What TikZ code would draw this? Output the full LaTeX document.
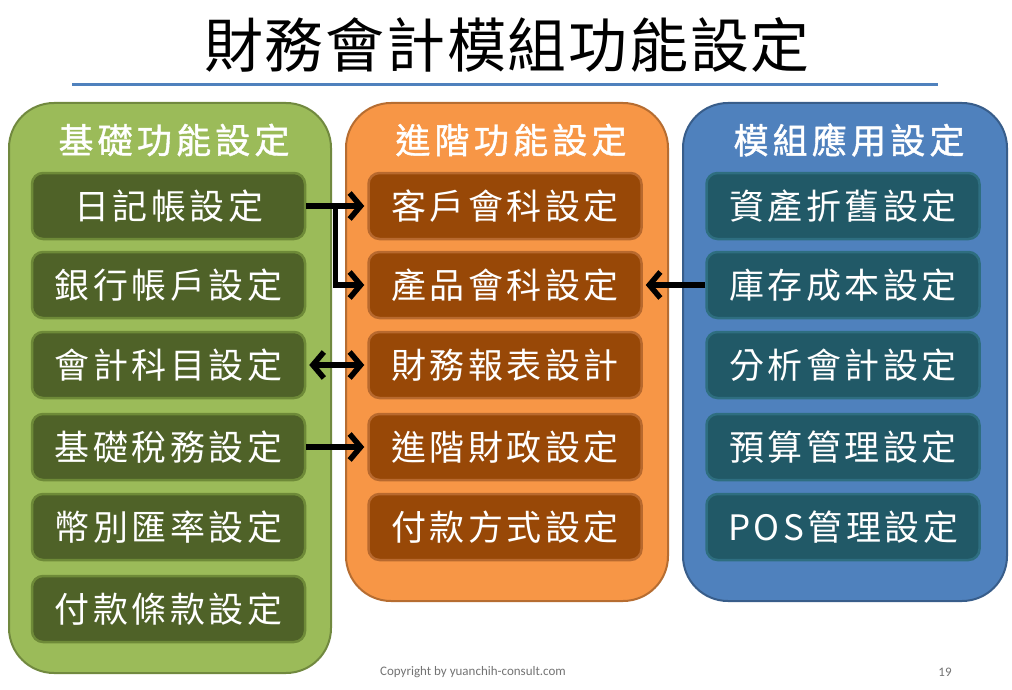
\documentclass[tikz,border=0pt]{standalone}
\usepackage{fontspec}
\newfontfamily\cjk{Noto Sans CJK TC}
\newfontfamily\cjkitem[LetterSpace=10]{Noto Sans CJK TC}
\newfontfamily\cjkhead[LetterSpace=12,FakeBold=1.2]{Noto Sans CJK TC}
\newfontfamily\cjktitle[LetterSpace=3]{Noto Sans CJK TC}
\newfontfamily\foot{Carlito}
\usetikzlibrary{arrows.meta,calc}
\definecolor{gfill}{HTML}{9BBB59}\definecolor{gline}{HTML}{71893F}
\definecolor{ofill}{HTML}{F79646}\definecolor{oline}{HTML}{B66D31}
\definecolor{bfill}{HTML}{4F81BD}\definecolor{bline}{HTML}{385D8A}
\definecolor{gbx}{HTML}{4F6228}\definecolor{gbxl}{HTML}{6E8A38}
\definecolor{obx}{HTML}{984807}\definecolor{obxl}{HTML}{B8692E}
\definecolor{bbx}{HTML}{215967}\definecolor{bbxl}{HTML}{2E6E80}
\definecolor{rule}{HTML}{4F81BD}
\tikzset{
  panel/.style={draw, line width=2pt, rounded corners=45pt, anchor=north west},
  head/.style={text=white, font=\cjkhead\fontsize{35}{40}\selectfont},
  item/.style={draw, line width=2.5pt, rounded corners=11pt, minimum width=273pt, minimum height=66pt,
    text=white, font=\cjkitem\fontsize{35}{40}\selectfont, inner sep=0pt},
  gitem/.style={item, fill=gbx, draw=gbxl},
  oitem/.style={item, fill=obx, draw=obxl},
  bitem/.style={item, fill=bbx, draw=bbxl},
  arr/.style={line width=5.5pt, -{Straight Barb[length=11pt,width=26pt,line width=5.5pt]}, shorten >=3pt},
  arrboth/.style={line width=5.5pt, {Straight Barb[length=11pt,width=26pt,line width=5.5pt]}-{Straight Barb[length=11pt,width=26pt,line width=5.5pt]}, shorten >=3pt, shorten <=3pt},
}
\begin{document}
\begin{tikzpicture}[x=1pt,y=-1pt]
\useasboundingbox (0,0) rectangle (1012,690);
\fill[white] (0,0) rectangle (1012,690);
\node[font=\cjktitle\fontsize{59}{64}\selectfont] (title) at (507,45) {財務會計模組功能設定};
\draw[rule, line width=3pt] (72,85) -- (938,85);
\node[panel, fill=gfill, draw=gline, minimum width=322pt, minimum height=570pt] (pg) at (8,102) {};
\node[panel, fill=ofill, draw=oline, minimum width=322pt, minimum height=498pt] (po) at (345,102) {};
\node[panel, fill=bfill, draw=bline, minimum width=324pt, minimum height=498pt] (pb) at (682,102) {};
\node[head] (hg) at (174,140) {基礎功能設定};
\node[head] (ho) at (511,140) {進階功能設定};
\node[head] (hb) at (849,140) {模組應用設定};
\node[gitem] (g1) at (168.5,206) {日記帳設定};
\node[gitem] (g2) at (168.5,285) {銀行帳戶設定};
\node[gitem] (g3) at (168.5,365) {會計科目設定};
\node[gitem] (g4) at (168.5,447) {基礎稅務設定};
\node[gitem] (g5) at (168.5,527) {幣別匯率設定};
\node[gitem] (g6) at (168.5,609) {付款條款設定};
\node[oitem] (o1) at (505,206) {客戶會科設定};
\node[oitem] (o2) at (505,285) {產品會科設定};
\node[oitem] (o3) at (505,365) {財務報表設計};
\node[oitem] (o4) at (505,447) {進階財政設定};
\node[oitem] (o5) at (505,527) {付款方式設定};
\node[bitem] (b1) at (843,206) {資產折舊設定};
\node[bitem] (b2) at (843,285) {庫存成本設定};
\node[bitem] (b3) at (843,365) {分析會計設定};
\node[bitem] (b4) at (843,447) {預算管理設定};
\node[bitem] (b5) at (843,527) {POS管理設定};
\coordinate (br) at ($(g1.east)!0.48!(o1.west)$);
\draw[arr] (g1.east) -- (o1.west);
\draw[arr] (br) |- (o2.west);
\draw[arr] (b2.west) -- (o2.east);
\draw[arrboth] (g3.east) -- (o3.west);
\draw[arr] (g4.east) -- (o4.west);
\node[font=\foot\fontsize{13}{15}\selectfont, text=black!55] (copy) at (473,672) {Copyright by yuanchih-consult.com};
\node[font=\foot\fontsize{13}{15}\selectfont, text=black!55] (page) at (945,672) {19};
\end{tikzpicture}
\end{document}
